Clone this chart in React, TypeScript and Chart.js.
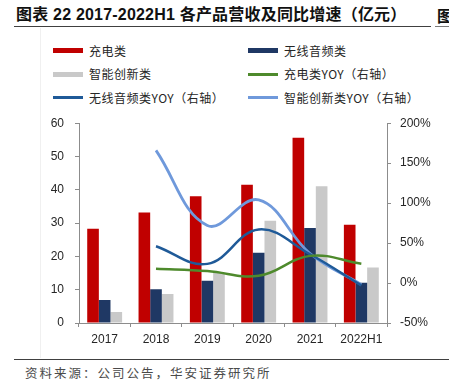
import React, { useEffect, useRef } from "react";
import { Chart, registerables } from "chart.js";

Chart.register(...registerables);

const categories = ["2017", "2018", "2019", "2020", "2021", "2022H1"];
const chargingRevenue = [28.3, 33.2, 38.1, 41.5, 55.6, 29.5];
const audioRevenue = [6.9, 10.1, 12.7, 21.1, 28.5, 12.1];
const innovativeRevenue = [3.3, 8.7, 15.1, 30.7, 41.1, 16.7];
const chargingYoy = [null, 18, 15, 9, 34, 24];
const audioYoy = [null, 46, 24, 67, 36, -3];
const innovativeYoy = [null, 166, 72, 104, 37, -2];

const seriesNames = [
  "充电类",
  "无线音频类",
  "智能创新类",
  "充电类YOY（右轴）",
  "无线音频类YOY（右轴）",
  "智能创新类YOY（右轴）",
];
const colors = ["#C00000", "#1F3864", "#C9C9C9", "#4E8A2C", "#1F5A98", "#6F99DB"];

const title = "图表 22 2017-2022H1 各产品营收及同比增速（亿元）";
const source = "资料来源：公司公告，华安证券研究所";

const AXIS = "#8c8c8c";
const TICKFONT = { family: '"Liberation Sans", Arial, sans-serif', size: 12 };

export default function App() {
  const ref = useRef<HTMLCanvasElement | null>(null);

  useEffect(() => {
    if (!ref.current) return;
    const chart = new Chart(ref.current, {
      type: "bar",
      data: {
        labels: categories,
        datasets: [
          { type: "bar", label: seriesNames[0], data: chargingRevenue, backgroundColor: colors[0], yAxisID: "y", order: 1 },
          { type: "bar", label: seriesNames[1], data: audioRevenue, backgroundColor: colors[1], yAxisID: "y", order: 1 },
          { type: "bar", label: seriesNames[2], data: innovativeRevenue, backgroundColor: colors[2], yAxisID: "y", order: 1 },
          { type: "line", label: seriesNames[3], data: chargingYoy, borderColor: colors[3], borderWidth: 2.5, pointRadius: 0, tension: 0.4, yAxisID: "y1", order: 0 },
          { type: "line", label: seriesNames[4], data: audioYoy, borderColor: colors[4], borderWidth: 2.5, pointRadius: 0, tension: 0.4, yAxisID: "y1", order: 0 },
          { type: "line", label: seriesNames[5], data: innovativeYoy, borderColor: colors[5], borderWidth: 2.8, pointRadius: 0, tension: 0.4, yAxisID: "y1", order: 0 },
        ] as any,
      },
      options: {
        animation: false,
        responsive: false,
        maintainAspectRatio: false,
        layout: { padding: { top: 16, left: 0, right: 0, bottom: 0 } },
        datasets: { bar: { categoryPercentage: 0.68, barPercentage: 1 } } as any,
        plugins: { legend: { display: false }, tooltip: { enabled: false } },
        scales: {
          x: {
            offset: true,
            grid: { display: true, drawOnChartArea: false, drawTicks: true, tickLength: 4, color: AXIS, offset: true },
            border: { display: true, color: AXIS, width: 1 },
            ticks: { font: TICKFONT, color: "#262626", padding: 5, maxRotation: 0 },
            afterFit: (s: any) => { s.height = 32; },
          },
          y: {
            position: "left",
            min: 0,
            max: 60,
            ticks: { stepSize: 10, font: TICKFONT, color: "#262626", padding: 11 },
            grid: { drawOnChartArea: false, drawTicks: true, tickLength: 4, color: AXIS },
            border: { display: true, color: AXIS, width: 1 },
            afterFit: (s: any) => { s.width = 79; },
          },
          y1: {
            position: "right",
            min: -50,
            max: 200,
            ticks: { stepSize: 50, font: TICKFONT, color: "#262626", padding: 9, callback: (v: any) => v + "%" },
            grid: { drawOnChartArea: false, drawTicks: true, tickLength: 4, color: AXIS },
            border: { display: true, color: AXIS, width: 1 },
            afterFit: (s: any) => { s.width = 62; },
          },
        },
      } as any,
    });
    return () => chart.destroy();
  }, []);

  const legendRows = [50.7, 74, 97.7];
  const legendCols = [53, 248];
  const cjk = '"Noto Sans CJK SC", "Liberation Sans", sans-serif';

  return (
    <div style={{ position: "absolute", left: 0, top: 0, width: 449, height: 385, background: "#fff", overflow: "hidden" }}>
      <div style={{ position: "absolute", left: 16, top: 5, whiteSpace: "nowrap", fontFamily: '"Liberation Sans", "Noto Sans CJK SC", sans-serif', fontWeight: "bold", fontSize: 16, lineHeight: "20px", color: "#111", letterSpacing: 0.2 }}>
        {title}
      </div>
      <div style={{ position: "absolute", left: 437, top: 5, whiteSpace: "nowrap", fontFamily: cjk, fontWeight: "bold", fontSize: 16, lineHeight: "20px", color: "#111" }}>图</div>
      <div style={{ position: "absolute", left: 14, top: 26, width: 417, height: 1.3, background: "#404040" }} />
      <div style={{ position: "absolute", left: 435, top: 26, width: 14, height: 1.3, background: "#7a7a7a" }} />
      <div style={{ position: "absolute", left: 40, top: 28, width: 1, height: 330, background: "#f0f0f0" }} />
      {seriesNames.map((name, i) => {
        const row = Math.floor(i / 2);
        const col = i % 2;
        const cy = legendRows[row];
        const x = legendCols[col];
        const isBar = i < 3;
        const h = isBar ? 5 : 3;
        return (
          <React.Fragment key={name}>
            <div style={{ position: "absolute", left: x, top: cy - h / 2, width: 30, height: h, background: colors[i] }} />
            <div style={{ position: "absolute", left: x + 36, top: cy - 9, lineHeight: "18px", fontSize: 12, fontFamily: cjk, color: "#262626", whiteSpace: "nowrap", letterSpacing: 0.5 }}>
              {name}
            </div>
          </React.Fragment>
        );
      })}
      <canvas ref={ref} width={449} height={250} style={{ position: "absolute", left: 0, top: 105, width: 449, height: 250 }} />
      <div style={{ position: "absolute", left: 14, top: 359, width: 435, height: 1.3, background: "#404040" }} />
      <div style={{ position: "absolute", left: 25, top: 364, lineHeight: "18px", fontSize: 12.5, letterSpacing: 2, fontFamily: cjk, color: "#4a4a4a", whiteSpace: "nowrap" }}>
        {source}
      </div>
    </div>
  );
}
